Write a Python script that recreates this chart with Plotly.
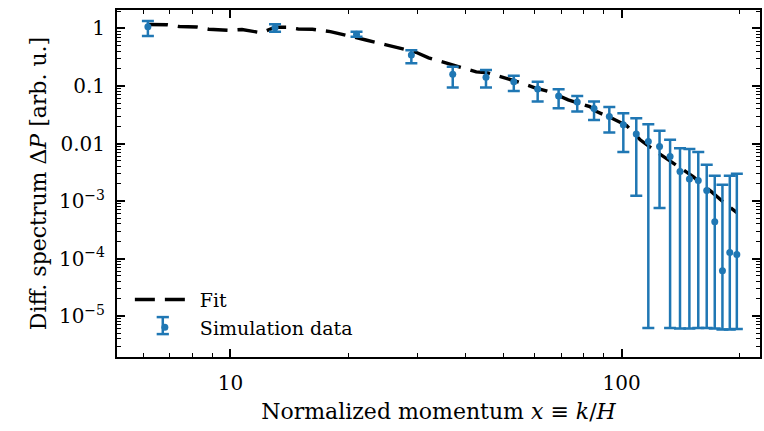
import plotly.graph_objects as go

# ---- data ----
sim_x = [6.15, 13, 21, 29, 37, 45, 53, 61, 69, 77, 85, 93, 101, 109, 117, 125,
         133, 141, 149, 157, 165, 173, 181, 189, 197]
sim_y = [1.07, 1.03, 0.79, 0.346, 0.16, 0.142, 0.119, 0.089, 0.067, 0.0529, 0.0406,
         0.0294, 0.0212, 0.01456, 0.01083, 0.00887, 0.00594, 0.00327, 0.00241,
         0.00228, 0.00153, 4.37e-4, 6.16e-5, 1.27e-4, 1.18e-4]
sim_hi = [1.35, 1.18, 0.88, 0.42, 0.216, 0.19, 0.151, 0.118, 0.088, 0.067, 0.0536,
          0.043, 0.0337, 0.0276, 0.0217, 0.0166, 0.0116, 0.0083, 0.008, 0.0071,
          0.00427, 0.00275, 0.00192, 0.00275, 0.00298]
sim_lo = [0.74, 0.88, 0.72, 0.249, 0.094, 0.094, 0.082, 0.0535, 0.041, 0.036, 0.0257,
          0.0155, 0.0071, 0.00124, 6.2e-6, 7.56e-4, 6.2e-6, 6.07e-6, 6.07e-6, 6.2e-6,
          6.2e-6, 6.07e-6, 5.83e-6, 5.83e-6, 5.97e-6]

fit_x = [6.15, 6.9, 7.4, 8.2, 8.8, 9.9, 10.7, 12.0, 13.0, 13.9, 14.9, 16.2, 18.0,
         19.5, 21.3, 22.2, 25.0, 26.6, 29.8, 32.1, 35.6, 38.2, 42.5, 45.5, 50.6,
         54.3, 60.0, 65.6, 73.0, 82.9, 86.3, 95.0, 103.0, 111.5, 122.7, 137.4,
         152.3, 169.2, 184.3, 197.0]
fit_y = [1.17, 1.16, 1.08, 1.06, 0.97, 0.93, 0.96, 0.84, 1.05, 1.05, 0.98, 0.97, 0.88,
         0.78, 0.69, 0.63, 0.52, 0.464, 0.386, 0.308, 0.252, 0.214, 0.176, 0.169,
         0.139, 0.118, 0.093, 0.079, 0.0575, 0.0438, 0.0358, 0.027, 0.0205, 0.0116,
         0.0072, 0.00427, 0.00266, 0.00147, 8.9e-4, 6.3e-4]

y_major = [1e-5, 1e-4, 1e-3, 1e-2, 1e-1, 1]
y_labels = ["10<sup>−5</sup>", "10<sup>−4</sup>", "10<sup>−3</sup>", "0.01", "0.1", "1"]
x_major = [10, 100]
x_labels = ["10", "100"]

blue = "#1f77b4"
font = "DejaVu Serif, Liberation Serif, serif"

y_minor = [m * 10 ** e for e in range(-6, 1) for m in range(2, 10)]
x_minor = [6, 7, 8, 9, 20, 30, 40, 50, 60, 70, 80, 90, 200]

err_plus = [h - v for h, v in zip(sim_hi, sim_y)]
err_minus = [v - l for v, l in zip(sim_y, sim_lo)]

fig = go.Figure()
fig.add_trace(go.Scatter(
    x=fit_x, y=fit_y, mode="lines", name="Fit",
    line=dict(color="black", width=3.4, dash="20px,10px"),
))
fig.add_trace(go.Scatter(
    x=sim_x, y=sim_y, mode="markers", name="Simulation data",
    marker=dict(color=blue, size=7),
    error_y=dict(type="data", symmetric=False, array=err_plus, arrayminus=err_minus,
                 color=blue, thickness=2.5, width=6),
))

axis_common = dict(
    showline=True, linecolor="black", linewidth=2, mirror="allticks",
    ticks="inside", ticklen=8, tickwidth=1.5, tickcolor="black",
    showgrid=False, zeroline=False,
    tickfont=dict(family=font, size=20, color="black"),
)

fig.update_xaxes(
    type="log", range=[0.7099, 2.3537],
    tickmode="array", tickvals=x_major, ticktext=x_labels,
    minor=dict(ticks="inside", ticklen=4, tickwidth=1.2, tickcolor="black",
               tickmode="array", tickvals=x_minor, showgrid=False),
    title=dict(text="Normalized momentum <i>x</i> ≡ <i>k</i>/<i>H</i>",
               font=dict(family=font, size=22, color="black"), standoff=10),
    ticklabelstandoff=7,
    **axis_common,
)
fig.update_yaxes(
    type="log", range=[-5.712, 0.321],
    tickmode="array", tickvals=y_major, ticktext=y_labels,
    minor=dict(ticks="inside", ticklen=4, tickwidth=1.2, tickcolor="black",
               tickmode="array", tickvals=y_minor, showgrid=False),
    title=dict(text="Diff. spectrum Δ<i>P</i> [arb. u.]",
               font=dict(family=font, size=22, color="black"), standoff=6),
    ticklabelstandoff=6,
    **axis_common,
)

# error-bar glyph for the legend entry (legend decoration, paper coords)
lx, ly0, ly1, cap = 0.0712, 0.066, 0.115, 0.0095
for shp in [
    dict(x0=lx, x1=lx, y0=ly0, y1=ly1),
    dict(x0=lx - cap, x1=lx + cap, y0=ly0, y1=ly0),
    dict(x0=lx - cap, x1=lx + cap, y0=ly1, y1=ly1),
]:
    fig.add_shape(type="line", xref="paper", yref="paper",
                  line=dict(color=blue, width=2.5), **shp)

fig.update_layout(
    width=764, height=431,
    margin=dict(l=117, r=2, t=10, b=74),
    paper_bgcolor="white", plot_bgcolor="white",
    font=dict(family=font, color="black"),
    showlegend=True,
    legend=dict(x=0.02, y=0.03, xanchor="left", yanchor="bottom",
                bgcolor="rgba(0,0,0,0)", font=dict(family=font, size=19, color="black"),
                itemwidth=60, tracegroupgap=0),
)

fig.write_html("out.html")
